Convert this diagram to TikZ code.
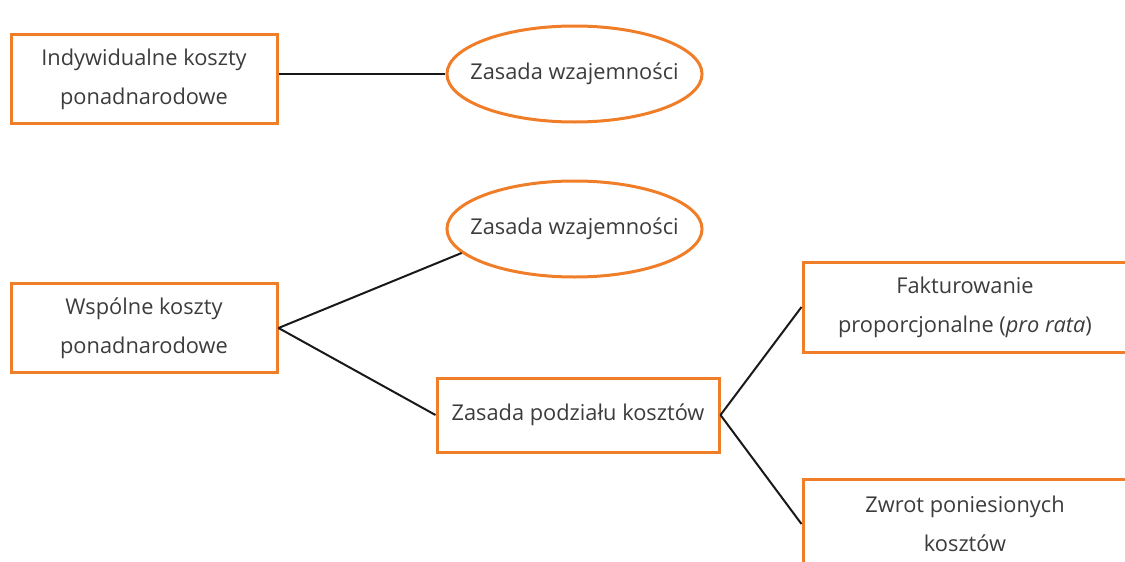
\documentclass[tikz,border=0pt]{standalone}
\usepackage{fontspec}
\setmainfont{Open Sans}
\usetikzlibrary{shapes.geometric}
\definecolor{boxorange}{RGB}{240,125,40}
\definecolor{txtgray}{RGB}{60,60,60}

\begin{document}
\begin{tikzpicture}[x=0.5pt,y=-0.5pt]
  \tikzstyle{kostbox}=[draw=boxorange, line width=1.5pt, rectangle, align=center,
    text=txtgray, font=\fontsize{10.9}{19.5}\selectfont, inner sep=0pt]
  \tikzstyle{zasada}=[kostbox, ellipse, inner xsep=-7pt,
    minimum width=127.5pt, minimum height=48pt]
  \tikzstyle{link}=[line width=1pt, black!90]

  \clip (0,0) rectangle (1125,562);

  \node[kostbox, minimum width=133pt, minimum height=44.5pt] (Indyw) at (144,79)
    {Indywidualne koszty\\ponadnarodowe};

  \node[zasada] (Wzaj1) at (574.5,74) {Zasada wzajemności};

  \node[zasada] (Wzaj2) at (574.5,229) {Zasada wzajemności};

  \node[kostbox, minimum width=133pt, minimum height=44.5pt] (Wspol) at (144,328)
    {Wspólne koszty\\ponadnarodowe};

  \node[kostbox, minimum width=141pt, minimum height=37pt] (Podzial) at (578,415)
    {Zasada podziału kosztów};

  \node[kostbox, minimum width=162pt, minimum height=45pt] (Faktur) at (965,307)
    {Fakturowanie\\proporcjonalne (\textit{pro rata})};

  \node[kostbox, minimum width=162pt, minimum height=45pt] (Zwrot) at (965,524)
    {Zwrot poniesionych\\kosztów};

  \draw[link] (Indyw.east |- Wzaj1.west) -- (Wzaj1.west);

  \draw[link] (Wspol.east) -- (Wzaj2.192);
  \draw[link] (Wspol.east) -- (Podzial.west);

  \draw[link] (Podzial.east) -- (Faktur.west);
  \draw[link] (Podzial.east) -- (Zwrot.west);

\end{tikzpicture}
\end{document}
